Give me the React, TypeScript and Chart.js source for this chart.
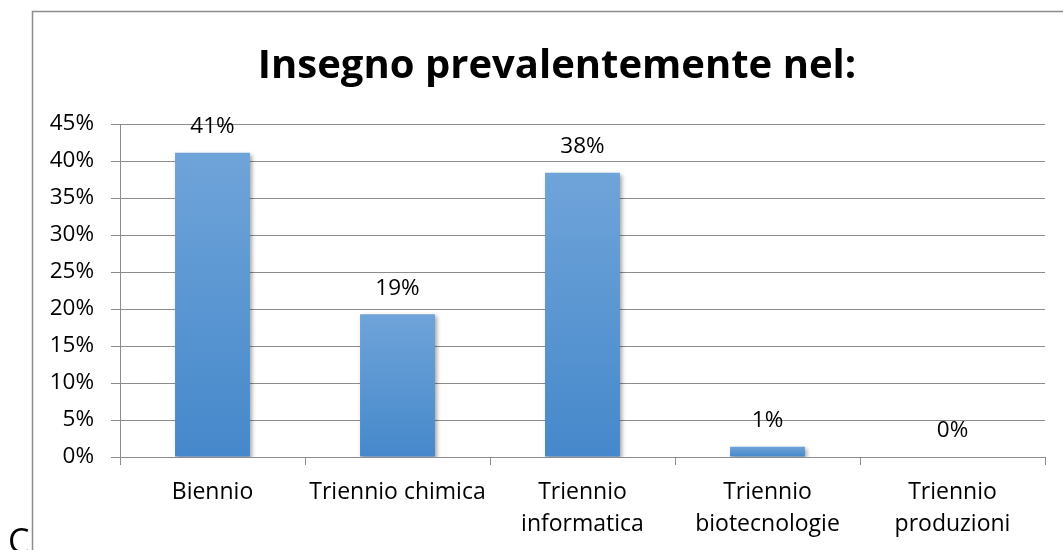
import React, { useEffect, useRef } from 'react';
import { Chart, registerables } from 'chart.js';

Chart.register(...registerables);

const titleText = 'Insegno prevalentemente nel:';
const categories: string[][] = [
  ['Biennio'],
  ['Triennio chimica'],
  ['Triennio', 'informatica'],
  ['Triennio', 'biotecnologie'],
  ['Triennio', 'produzioni'],
];
const values = [41.1, 19.3, 38.4, 1.4, 0];
const yMin = 0;
const yMax = 45;
const yStep = 5;
const cornerText = 'C';

const FONT = '"Open Sans", "Liberation Sans", sans-serif';

export default function App() {
  const ref = useRef<HTMLCanvasElement | null>(null);

  useEffect(() => {
    if (!ref.current) return;

    const decor = {
      id: 'decor',
      beforeDatasetsDraw(chart: any) {
        const ctx = chart.ctx;
        ctx.save();
        ctx.shadowColor = 'rgba(0,0,0,0.35)';
        ctx.shadowBlur = 4;
        ctx.shadowOffsetX = 2;
        ctx.shadowOffsetY = 2;
      },
      afterDatasetsDraw(chart: any) {
        const ctx = chart.ctx;
        ctx.restore();
        ctx.save();
        ctx.font = `22.5px ${FONT}`;
        ctx.fillStyle = '#000';
        ctx.textAlign = 'center';
        ctx.textBaseline = 'middle';
        const meta = chart.getDatasetMeta(0);
        meta.data.forEach((el: any, i: number) => {
          ctx.fillText(Math.round(values[i]) + '%', el.x, el.y - 26);
        });
        ctx.restore();
      },
      afterDraw(chart: any) {
        const ctx = chart.ctx;
        ctx.save();
        // title
        ctx.font = `bold 40px ${FONT}`;
        ctx.fillStyle = '#000';
        ctx.textAlign = 'center';
        ctx.textBaseline = 'middle';
        ctx.fillText(titleText, 557, 67);
        // stray corner letter
        ctx.font = `34px ${FONT}`;
        ctx.textAlign = 'left';
        ctx.textBaseline = 'alphabetic';
        ctx.fillText(cornerText, 8, 553);
        // frame
        ctx.strokeStyle = '#8c8c8c';
        ctx.lineWidth = 1.5;
        ctx.strokeRect(32.5, 11.5, 1200, 700);
        ctx.restore();
      },
    };

    const chart = new Chart(ref.current, {
      type: 'bar',
      data: {
        labels: categories as any,
        datasets: [
          {
            data: values,
            barPercentage: 0.81,
            categoryPercentage: 0.5,
            backgroundColor: (c: any) => {
              const ch = c.chart;
              const ys = ch.scales && ch.scales.y;
              if (!ys || c.type !== 'data') return '#5b9bd5';
              const top = ys.getPixelForValue(c.raw);
              const base = ys.getPixelForValue(0);
              if (!isFinite(top) || !isFinite(base) || base - top < 1) return '#5b9bd5';
              const g = ch.ctx.createLinearGradient(0, top, 0, base);
              g.addColorStop(0, '#6fa4d9');
              g.addColorStop(1, '#4588cb');
              return g;
            },
            borderWidth: 0,
          },
        ],
      },
      options: {
        responsive: false,
        animation: false,
        devicePixelRatio: 1,
        layout: { padding: { left: 32, right: 18, top: 124, bottom: 10 } },
        plugins: {
          legend: { display: false },
          title: { display: false },
          tooltip: { enabled: false },
        },
        scales: {
          x: {
            grid: {
              drawOnChartArea: false,
              drawTicks: true,
              tickLength: 8,
              color: '#8c8c8c',
              offset: true,
            },
            border: { color: '#8c8c8c', width: 1 },
            ticks: {
              font: { family: FONT, size: 23, lineHeight: 1.4 },
              color: '#000',
              padding: 11,
              maxRotation: 0,
              autoSkip: false,
            },
            afterFit: (s: any) => {
              s.height = 83;
            },
          },
          y: {
            min: yMin,
            max: yMax,
            grid: { color: '#8c8c8c', tickLength: 9, lineWidth: 1 },
            border: { color: '#8c8c8c', width: 1 },
            ticks: {
              stepSize: yStep,
              font: { family: FONT, size: 22.5 },
              color: '#000',
              padding: 17,
              callback: (v: any) => v + '%',
            },
            afterFit: (s: any) => {
              s.width = 88;
            },
          },
        },
      },
      plugins: [decor],
    });

    return () => chart.destroy();
  }, []);

  return (
    <div style={{ position: 'absolute', left: 0, top: 0, width: 1063, height: 550, background: '#fff', overflow: 'hidden' }}>
      <canvas ref={ref} width={1063} height={550} style={{ display: 'block', width: 1063, height: 550 }} />
    </div>
  );
}
